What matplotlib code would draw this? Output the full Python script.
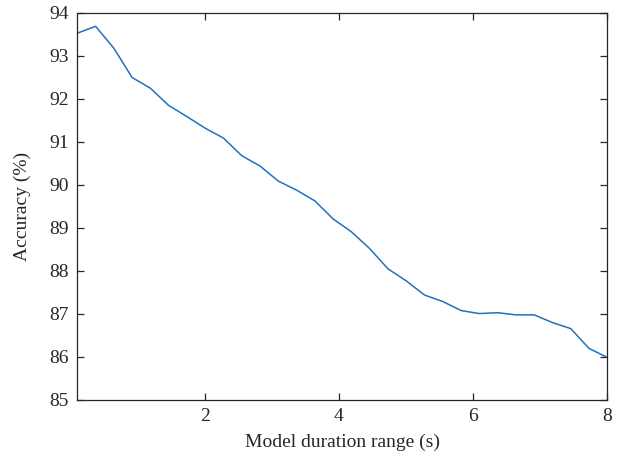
import matplotlib
matplotlib.use("Agg")
import matplotlib.pyplot as plt
import numpy as np

# accuracy versus model duration range
duration = np.linspace(0.1, 8.0, 30)
accuracy = [
    93.53, 93.69, 93.18, 92.50, 92.25, 91.85, 91.59, 91.32, 91.09, 90.68,
    90.44, 90.09, 89.88, 89.63, 89.21, 88.91, 88.52, 88.05, 87.77, 87.44,
    87.29, 87.08, 87.01, 87.03, 86.98, 86.98, 86.80, 86.66, 86.20, 85.99,
]
x_ticks = [2, 4, 6, 8]
y_ticks = list(range(85, 95))

plt.rcParams["font.family"] = ["Liberation Serif", "DejaVu Serif"]
plt.rcParams["font.size"] = 14

fig = plt.figure(figsize=(6.29, 4.62), dpi=100)
ax = fig.add_axes([0.1229, 0.1342, 0.9655 - 0.1229, 0.9719 - 0.1342])

ax.plot(duration, accuracy, color="#1f72bd", linewidth=1.1)

ax.set_xlim(0.1, 8)
ax.set_ylim(85, 94)
ax.set_xticks(x_ticks)
ax.set_yticks(y_ticks)
ax.tick_params(direction="in", top=True, right=True, length=5,
               width=0.9, colors="#262626", labelcolor="#262626", pad=6)
for spine in ax.spines.values():
    spine.set_color("#262626")
    spine.set_linewidth(0.9)

ax.set_xlabel("Model duration range (s)", color="#262626", labelpad=6)
ax.set_ylabel("Accuracy (%)", color="#262626", labelpad=13)

fig.savefig("out.png", dpi=100)
